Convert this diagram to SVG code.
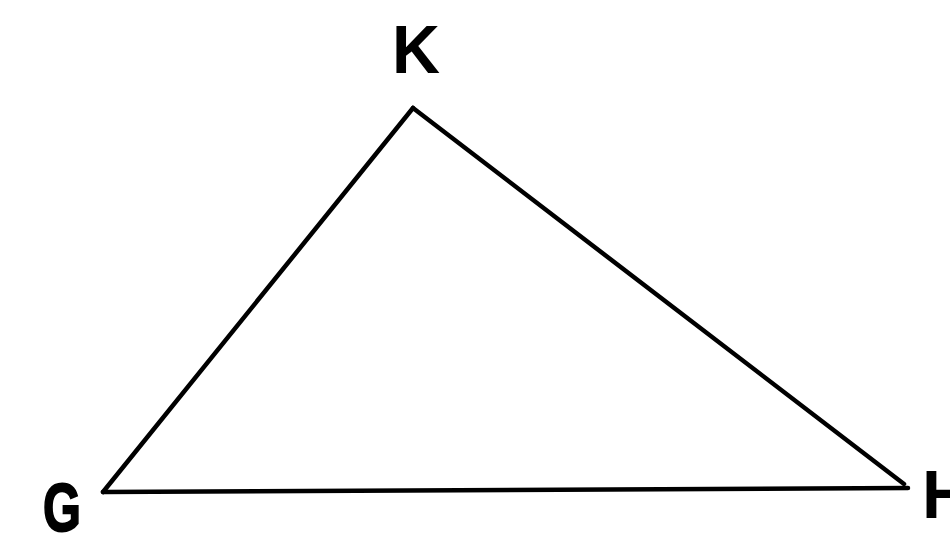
<svg xmlns="http://www.w3.org/2000/svg" width="950" height="538" viewBox="0 0 950 538">
<style>
.edge{stroke:#000;stroke-width:4.5;fill:none;stroke-linecap:round;stroke-linejoin:round}
.lbl{font-family:"Liberation Sans",Arial,sans-serif;font-weight:bold;font-size:68px;fill:#000}
</style>
<rect width="950" height="538" fill="#fff"/>
<g id="connectors">
<path class="edge" d="M413,108 L103,492"/>
<path class="edge" d="M413,108 L904,484"/>
<path class="edge" d="M103,492 L908,488"/>
</g>
<g id="K"><text class="lbl" x="392" y="73" textLength="48" lengthAdjust="spacingAndGlyphs">K</text></g>
<g id="G"><text class="lbl" x="43" y="531" textLength="38" lengthAdjust="spacingAndGlyphs" stroke="#000" stroke-width="2">G</text></g>
<g id="H"><text class="lbl" x="922" y="518">H</text></g>
</svg>
